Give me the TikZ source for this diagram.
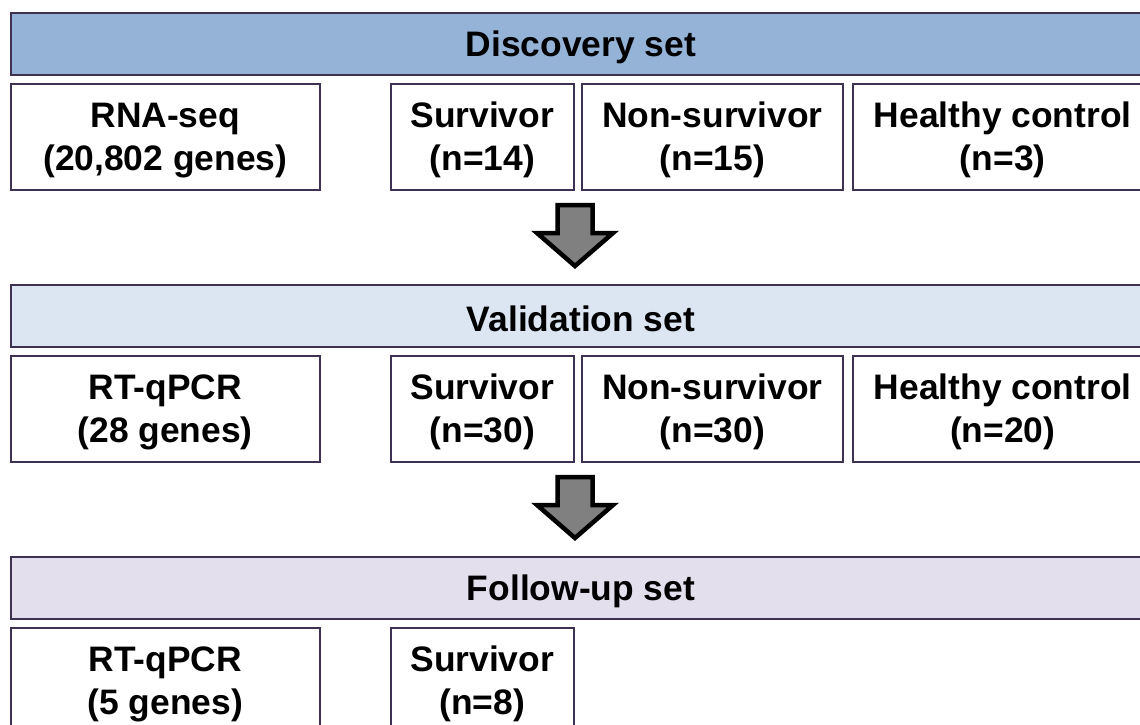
\documentclass[tikz,border=0pt]{standalone}
\usepackage{fontspec}
\setmainfont{Liberation Sans}
\definecolor{edge}{HTML}{3F3151}
\definecolor{discfill}{HTML}{95B3D7}
\definecolor{valfill}{HTML}{DCE6F2}
\definecolor{follfill}{HTML}{E4DFEC}
\definecolor{arrfill}{HTML}{808080}
\newcommand{\tstrut}{\rule{0pt}{32pt}}
\tikzset{
  txt/.style={font=\bfseries\fontsize{35.4}{43}\selectfont},
  header/.style={txt, draw=edge, line width=2pt, minimum height=62pt, minimum width=1140pt, inner sep=0pt, anchor=north west, execute at begin node={\tstrut}},
  cell/.style={txt, draw=edge, line width=1.5pt, fill=white, minimum height=106pt, inner sep=0pt, align=center, anchor=north west},
  blockarrow/.style={draw=black, fill=arrfill, line width=4.5pt, line join=miter}
}
\begin{document}
\begin{tikzpicture}[x=1pt,y=-1pt]
\useasboundingbox (0,0) rectangle (1140,724);
\fill[white] (0,0) rectangle (1140,724);
\clip (0,0) rectangle (1140,724);
% Discovery
\node[header, fill=discfill] (disc) at (10,12) {Discovery set};
\node[cell, minimum width=309pt] (rna) at (10,83) {\tstrut RNA-seq\\(20,802 genes)};
\node[cell, minimum width=183pt] (s1) at (390,83) {\tstrut Survivor\\(n=14)};
\node[cell, minimum width=261pt] (ns1) at (581,83) {\tstrut Non-survivor\\(n=15)};
\node[cell, minimum width=300pt] (hc1) at (852,83) {\tstrut Healthy control\\(n=3)};
% arrow 1
\draw[blockarrow] (557.5,205) -- (592.5,205) -- (592.5,233) -- (613,233) -- (575,266) -- (537,233) -- (557.5,233) -- cycle;
% Validation
\node[header, fill=valfill] (val) at (10,284) {Validation set};
\node[cell, minimum width=309pt] (rt1) at (10,355) {\tstrut RT-qPCR\\(28 genes)};
\node[cell, minimum width=183pt] (s2) at (390,355) {\tstrut Survivor\\(n=30)};
\node[cell, minimum width=261pt] (ns2) at (581,355) {\tstrut Non-survivor\\(n=30)};
\node[cell, minimum width=300pt] (hc2) at (852,355) {\tstrut Healthy control\\(n=20)};
% arrow 2
\draw[blockarrow] (557.5,477) -- (592.5,477) -- (592.5,505) -- (613,505) -- (575,538) -- (537,505) -- (557.5,505) -- cycle;
% Follow-up
\node[header, fill=follfill] (fol) at (10,556) {Follow-up set};
\node[cell, minimum width=309pt] (rt2) at (10,627) {\tstrut RT-qPCR\\(5 genes)};
\node[cell, minimum width=183pt] (s3) at (390,627) {\tstrut Survivor\\(n=8)};
\end{tikzpicture}
\end{document}
